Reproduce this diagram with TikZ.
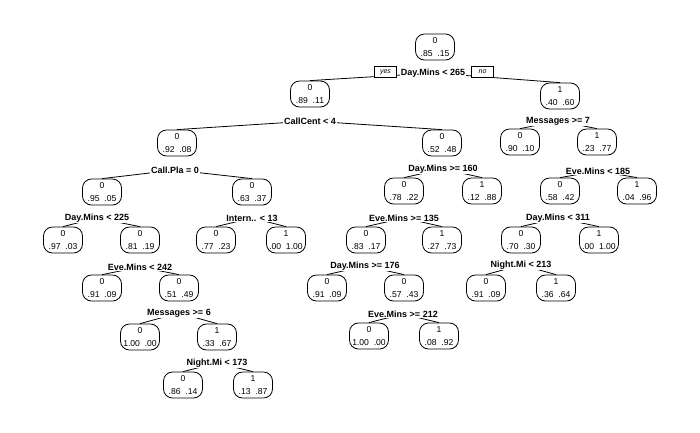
\documentclass[tikz,border=0pt]{standalone}
\usepackage{fontspec}
\setmainfont{Liberation Sans}
\usetikzlibrary{backgrounds}
\begin{document}
\begin{tikzpicture}[x=1pt,y=-1pt,
  tbox/.style={draw, line width=0.8pt, rounded corners=9pt, fill=white,
    align=center, minimum width=39pt, minimum height=26pt, inner sep=1.5pt,
    font=\fontsize{8.6}{13.5}\selectfont},
  split/.style={fill=white, inner sep=1pt,
    font=\fontsize{9}{10}\selectfont\bfseries},
  yn/.style={draw, fill=white, line width=0.6pt, inner sep=1pt,
    minimum width=22pt, minimum height=11pt,
    font=\fontsize{7}{7}\selectfont\itshape},
  branch/.style={line width=0.8pt}]
\useasboundingbox (0,0) rectangle (700,432);

% tree nodes: predicted class, then class probabilities
\node[tbox] (root) at (435,47)  {0\\.85~~.15};
\node[tbox] (A)  at (310,94)  {0\\.89~~.11};
\node[tbox] (B)  at (560,96)  {1\\.40~~.60};
\node[tbox] (C)  at (177,143) {0\\.92~~.08};
\node[tbox] (D)  at (442,143) {0\\.52~~.48};
\node[tbox] (E)  at (520,142) {0\\.90~~.10};
\node[tbox] (F)  at (597,142) {1\\.23~~.77};
\node[tbox] (G)  at (102,192) {0\\.95~~.05};
\node[tbox] (H)  at (252,192) {0\\.63~~.37};
\node[tbox] (I)  at (404,191) {0\\.78~~.22};
\node[tbox] (J)  at (482,191) {1\\.12~~.88};
\node[tbox] (K)  at (560,191) {0\\.58~~.42};
\node[tbox] (L)  at (637,191) {1\\.04~~.96};
\node[tbox] (M)  at (63,240)  {0\\.97~~.03};
\node[tbox] (N)  at (140,240) {0\\.81~~.19};
\node[tbox] (O)  at (216,240) {0\\.77~~.23};
\node[tbox] (P)  at (286,240) {1\\.00~~1.00};
\node[tbox] (Q)  at (366,240) {0\\.83~~.17};
\node[tbox] (R)  at (442,240) {1\\.27~~.73};
\node[tbox] (S)  at (521,240) {0\\.70~~.30};
\node[tbox] (T)  at (599,240) {1\\.00~~1.00};
\node[tbox] (U)  at (102,288) {0\\.91~~.09};
\node[tbox] (V)  at (179,288) {0\\.51~~.49};
\node[tbox] (W)  at (327,288) {0\\.91~~.09};
\node[tbox] (X)  at (404,288) {0\\.57~~.43};
\node[tbox] (Y)  at (486,288) {0\\.91~~.09};
\node[tbox] (Z)  at (556,288) {1\\.36~~.64};
\node[tbox] (AA) at (140,337) {0\\1.00~~.00};
\node[tbox] (AB) at (217,337) {1\\.33~~.67};
\node[tbox] (AC) at (369,336) {0\\1.00~~.00};
\node[tbox] (AD) at (439,336) {1\\.08~~.92};
\node[tbox] (AE) at (183,385) {0\\.86~~.14};
\node[tbox] (AF) at (253,385) {1\\.13~~.87};

% split conditions
\node[split] (sr)  at (433,73)  {Day.Mins < 265};
\node[split] (sA)  at (310,121) {CallCent < 4};
\node[split] (sB)  at (558,121) {Messages >= 7};
\node[split] (sC)  at (175,170) {Call.Pla = 0};
\node[split] (sD)  at (443,169) {Day.Mins >= 160};
\node[split] (sF)  at (598,171) {Eve.Mins < 185};
\node[split] (sG)  at (97,218)  {Day.Mins < 225};
\node[split] (sH)  at (252,218) {Intern.. < 13};
\node[split] (sI)  at (404,218) {Eve.Mins >= 135};
\node[split] (sK)  at (558,218) {Day.Mins < 311};
\node[split] (sN)  at (140,267) {Eve.Mins < 242};
\node[split] (sQ)  at (365,266) {Day.Mins >= 176};
\node[split] (sS)  at (521,265) {Night.Mi < 213};
\node[split] (sV)  at (179,313) {Messages >= 6};
\node[split] (sX)  at (403,314) {Eve.Mins >= 212};
\node[split] (sAB) at (217,363) {Night.Mi < 173};

% branch tags on the first split
\node[yn] (yes) at (385.5,72) {yes};
\node[yn] (no)  at (482.5,72) {no};

% branches, behind the labels
\begin{pgfonlayer}{background}
  \foreach \s/\l/\r in {sr/A/B, sA/C/D, sB/E/F, sC/G/H, sD/I/J, sF/K/L,
                        sG/M/N, sH/O/P, sI/Q/R, sK/S/T, sN/U/V, sQ/W/X,
                        sS/Y/Z, sV/AA/AB, sX/AC/AD, sAB/AE/AF}{
    \draw[branch] (\s.center) -- (\l.north);
    \draw[branch] (\s.center) -- (\r.north);
  }
\end{pgfonlayer}
\end{tikzpicture}
\end{document}
